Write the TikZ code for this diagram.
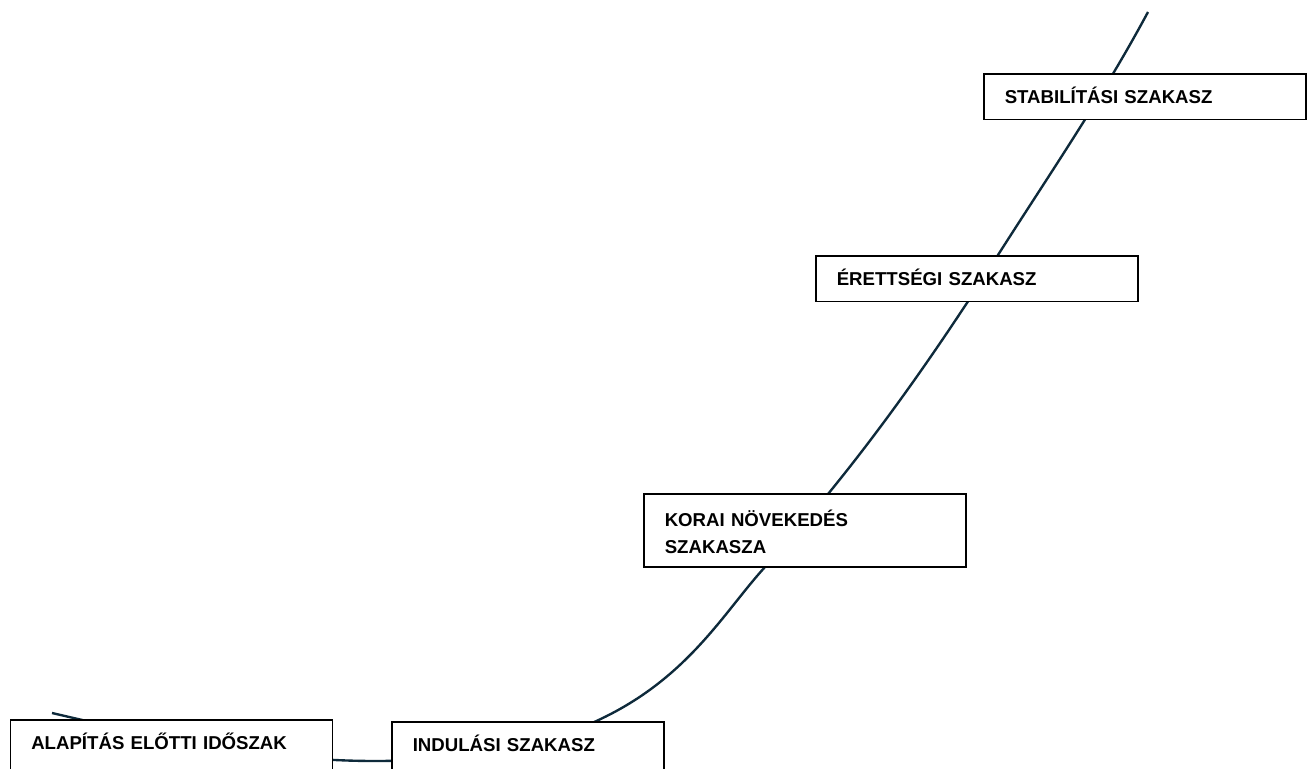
\documentclass[tikz,border=0pt]{standalone}
\usepackage{fontspec}
\setmainfont{Liberation Sans}
\definecolor{curvecol}{HTML}{0E2A3B}

\begin{document}
\begin{tikzpicture}[scale=1,
  stage/.style={draw=black, line width=0.9pt, fill=white, anchor=north west, align=left,
    inner xsep=0.42cm, inner ysep=8pt, text height=9pt, text depth=1pt, text width=5.6cm,
    font=\fontsize{10.6}{15.3}\selectfont\bfseries},
  lifecurve/.style={draw=curvecol, line width=1.35pt}]
  \useasboundingbox (0,0) rectangle (26.2,15.38);
  \clip (0,0) rectangle (26.2,15.38);
  % growth curve
  \draw[lifecurve] (1.04,1.12) .. controls (3.18,0.62) and (5.3,0.16) .. (7.5,0.16)
    .. controls (13.0,0.16) and (14.0,2.62) .. (15.3,4.04)
    .. controls (17.06,5.96) and (18.56,8.08) .. (19.96,10.28)
    .. controls (20.98,11.88) and (22.06,13.46) .. (22.96,15.14);
  % stages
  \node[stage, text depth=20pt] (prefound) at (0.19,1.0) {ALAPÍTÁS ELŐTTI IDŐSZAK};
  \node[stage, text depth=20pt, text width=4.6cm] (launch) at (7.82,0.96) {INDULÁSI SZAKASZ};
  \node[stage, text height=10.7pt, text depth=15pt] (earlygrowth) at (12.86,5.52) {KORAI NÖVEKEDÉS\\SZAKASZA};
  \node[stage] (maturity) at (16.3,10.28) {ÉRETTSÉGI SZAKASZ};
  \node[stage] (stability) at (19.66,13.92) {STABILÍTÁSI SZAKASZ};
\end{tikzpicture}
\end{document}
